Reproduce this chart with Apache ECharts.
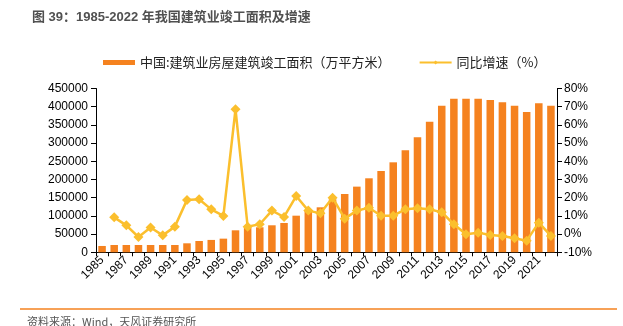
<!DOCTYPE html>
<html>
<head>
<meta charset="utf-8">
<script src="https://cdn.jsdelivr.net/npm/echarts@6/dist/echarts.min.js"></script>
<style>
  html, body { margin: 0; padding: 0; background: #fff; }
  #chart { width: 623px; height: 326px; }
</style>
</head>
<body>
<div id="chart"></div>
<script>
// Years 1985–2022
const years = ['1985','1986','1987','1988','1989','1990','1991','1992','1993','1994',
  '1995','1996','1997','1998','1999','2000','2001','2002','2003','2004',
  '2005','2006','2007','2008','2009','2010','2011','2012','2013','2014',
  '2015','2016','2017','2018','2019','2020','2021','2022'];

// Completed floor area of buildings, construction industry (10k m²)
const completedArea = [17400, 20100, 20100, 20100, 20100, 20100, 20100, 24700, 31100, 34000,
  37500, 60400, 66900, 68700, 74200, 80600, 100600, 116000, 123600, 145600,
  160200, 180400, 203300, 223400, 247200, 280200, 315900, 358900, 402900, 422100,
  422100, 422100, 418500, 412000, 402900, 385500, 409300, 402900];

// Year-on-year growth (%)
const yoyGrowth = [null, 9.2, 4.8, -1.6, 3.6, -0.7, 4.1, 18.8, 19.1, 13.6,
  10.0, 68.6, 4.1, 5.4, 12.9, 9.4, 20.9, 12.9, 11.4, 20.0,
  8.5, 12.9, 14.5, 10.1, 10.1, 13.6, 14.2, 13.6, 12.0, 5.4,
  -0.1, 0.8, -0.5, -1.0, -2.3, -3.6, 6.3, -1.0];

const barColor = '#F5821F';
const lineColor = '#FBBF2D';
const numFont = "'Liberation Sans', 'Noto Sans CJK SC', sans-serif";

const chart = echarts.init(document.getElementById('chart'), null, { renderer: 'canvas' });

chart.setOption({
  animation: false,
  backgroundColor: '#fff',
  title: {
    text: '图 39：1985-2022 年我国建筑业竣工面积及增速',
    left: 27,
    top: 6,
    textStyle: { fontFamily: numFont, fontSize: 13, fontWeight: 'bold', color: '#505050' }
  },
  legend: {
    top: 51,
    left: 98,
    itemGap: 28,
    itemWidth: 32,
    itemHeight: 5,
    textStyle: { fontFamily: "'Noto Sans CJK SC', sans-serif", fontSize: 13, color: '#222' },
    data: [
      { name: '中国:建筑业房屋建筑竣工面积（万平方米）', icon: 'rect' },
      { name: '同比增速（%）' }
    ]
  },
  grid: { left: 96, right: 66, top: 88.5, bottom: 73.7, containLabel: false },
  xAxis: {
    type: 'category',
    data: years,
    boundaryGap: true,
    axisLine: { lineStyle: { color: '#000', width: 1 } },
    axisTick: { show: true, alignWithLabel: false, interval: 0, length: 4, lineStyle: { color: '#000' } },
    axisLabel: { interval: 1, rotate: 45, margin: 6, fontFamily: numFont, fontSize: 12, color: '#000' }
  },
  yAxis: [
    {
      type: 'value',
      min: 0, max: 450000, interval: 50000,
      splitLine: { show: false },
      axisLine: { show: true, lineStyle: { color: '#000' } },
      axisTick: { show: true, inside: false, length: 5, lineStyle: { color: '#000' } },
      axisLabel: { margin: 8, formatter: (v) => String(v), fontFamily: numFont, fontSize: 12, color: '#000' }
    },
    {
      type: 'value',
      min: -10, max: 80, interval: 10,
      splitLine: { show: false },
      axisLine: { show: true, lineStyle: { color: '#000' } },
      axisTick: { show: true, inside: false, length: 5, lineStyle: { color: '#000' } },
      axisLabel: { margin: 7, formatter: '{value}%', fontFamily: numFont, fontSize: 12, color: '#000' }
    }
  ],
  series: [
    {
      name: '中国:建筑业房屋建筑竣工面积（万平方米）',
      type: 'bar',
      yAxisIndex: 0,
      data: completedArea,
      barWidth: '62%',
      itemStyle: { color: barColor }
    },
    {
      name: '同比增速（%）',
      type: 'line',
      yAxisIndex: 1,
      data: yoyGrowth,
      showSymbol: true,
      showAllSymbol: true,
      symbol: 'diamond',
      symbolSize: 10,
      lineStyle: { color: lineColor, width: 2.5 },
      itemStyle: { color: lineColor },
      z: 3
    }
  ],
  graphic: [
    {
      type: 'line',
      shape: { x1: 20, y1: 309, x2: 617, y2: 309 },
      style: { stroke: barColor, lineWidth: 1.5 }
    },
    {
      type: 'text',
      left: 27,
      top: 316,
      style: {
        text: '资料来源：Wind，天风证券研究所',
        fontFamily: "'Noto Sans CJK SC', sans-serif",
        fontSize: 11,
        fill: '#555'
      }
    }
  ]
});
</script>
</body>
</html>
